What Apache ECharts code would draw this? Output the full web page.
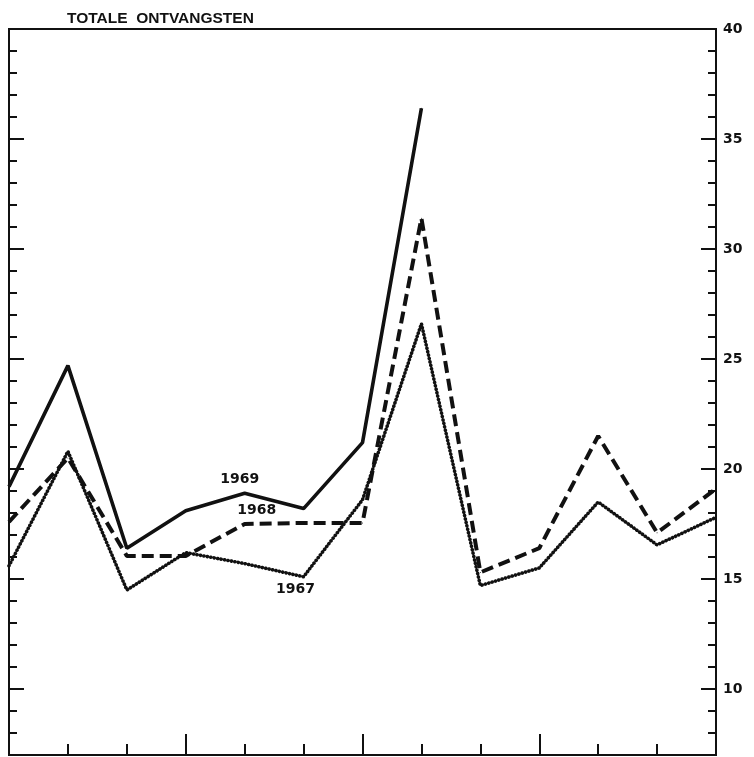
<!DOCTYPE html>
<html>
<head>
<meta charset="utf-8">
<script src="https://cdn.jsdelivr.net/npm/echarts@6/dist/echarts.min.js"></script>
<style>html,body{margin:0;padding:0;background:#fff}#c{width:754px;height:757px}</style>
</head>
<body>
<div id="c"></div>
<script>
const categories = ['1','2','3','4','5','6','7','8','9','10','11','12','13'];
const s1969 = [19.2, 24.7, 16.4, 18.1, 18.9, 18.2, 21.2, 36.4, null, null, null, null, null];
const s1968 = [17.6, 20.5, 16.05, 16.05, 17.5, 17.55, 17.55, 31.4, 15.3, 16.4, 21.5, 17.1, 19.1];
const s1967 = [15.6, 20.8, 14.5, 16.2, 15.7, 15.1, 18.6, 26.6, 14.7, 15.5, 18.5, 16.55, 17.8];
const majorTicks = [10, 15, 20, 25, 30, 35, 40];
const minorTicks = [8, 9, 11, 12, 13, 14, 16, 17, 18, 19, 21, 22, 23, 24, 26, 27, 28, 29, 31, 32, 33, 34, 36, 37, 38, 39];
const seriesNames = ['1969', '1968', '1967'];
const title = 'TOTALE  ONTVANGSTEN';

const Y_MIN = 7, Y_MAX = 40;
const axisFont = {fontFamily: 'DejaVu Sans', fontWeight: 'bold', fontSize: 14, color: '#111'};
const labelFont = {fontFamily: 'DejaVu Sans', fontWeight: 'bold', fontSize: 14, color: '#111'};

function yAx(position, ticks, len, labels) {
  return {
    type: 'value', position: position, min: Y_MIN, max: Y_MAX,
    splitLine: {show: false},
    axisLine: {show: true, lineStyle: {color: '#111', width: 2}},
    axisTick: {show: true, inside: true, length: len, customValues: ticks, lineStyle: {color: '#111', width: 2}},
    axisLabel: labels ? Object.assign({show: true, customValues: ticks, margin: 7}, axisFont) : {show: false}
  };
}
function xAx(len, fn) {
  return {
    type: 'category', data: categories, boundaryGap: false, position: 'bottom',
    axisLine: {show: true, lineStyle: {color: '#111', width: 2}},
    axisTick: {show: true, inside: true, length: len, interval: fn, lineStyle: {color: '#111', width: 2}},
    axisLabel: {show: false}, splitLine: {show: false}
  };
}
function withLabel(arr, idx, text, lab) {
  return arr.map((v, i) => i === idx ? {value: v, label: Object.assign({show: true, formatter: text}, labelFont, lab)} : v);
}

const chart = echarts.init(document.getElementById('c'), null, {renderer: 'canvas'});
chart.setOption({
  animation: false,
  backgroundColor: '#fff',
  title: {text: title, left: 62, top: 6, textStyle: {fontFamily: 'Liberation Sans', fontWeight: 'bold', fontSize: 15.5, color: '#111'}},
  grid: {left: 9, right: 38, top: 29, bottom: 2, show: true, borderColor: '#111', borderWidth: 2, containLabel: false},
  xAxis: [
    xAx(11, (i) => i % 3 !== 0),
    xAx(21, (i) => i % 3 === 0 && i > 0 && i < 12)
  ],
  yAxis: [
    yAx('right', majorTicks, 15, true),
    yAx('right', minorTicks, 8, false),
    yAx('left', majorTicks, 15, false),
    yAx('left', minorTicks, 8, false)
  ],
  series: [
    {name: seriesNames[0], type: 'line', xAxisIndex: 0, yAxisIndex: 0, symbol: 'circle', symbolSize: 1,
     itemStyle: {color: '#111'}, lineStyle: {color: '#111', width: 3.6, type: 'solid'},
     data: withLabel(s1969, 4, seriesNames[0], {position: 'top', distance: 6, offset: [-5, 0]})},
    {name: seriesNames[1], type: 'line', xAxisIndex: 0, yAxisIndex: 0, symbol: 'circle', symbolSize: 1,
     itemStyle: {color: '#111'}, lineStyle: {color: '#111', width: 4, type: [12, 6]},
     data: withLabel(s1968, 4, seriesNames[1], {position: 'top', distance: 6, offset: [12, 0]})},
    {name: seriesNames[2], type: 'line', xAxisIndex: 0, yAxisIndex: 0, symbol: 'circle', symbolSize: 1,
     itemStyle: {color: '#111'}, lineStyle: {color: '#111', width: 3.6, type: [0.1, 3.4], cap: 'round'},
     data: withLabel(s1967, 5, seriesNames[2], {position: 'bottom', distance: 5, offset: [-8, 0]})}
  ]
});
</script>
</body>
</html>
